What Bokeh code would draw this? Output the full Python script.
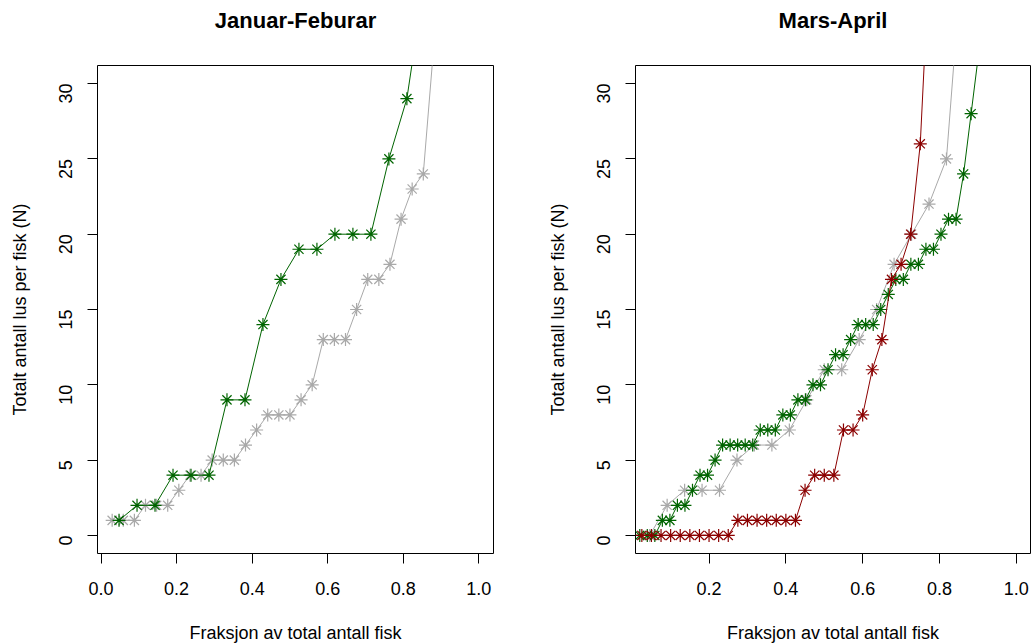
import math
import numpy as np
from bokeh.plotting import figure
from bokeh.layouts import row
from bokeh.models import FixedTicker, Range1d, Title
from bokeh.embed import file_html
from bokeh.resources import INLINE

# Lice counts per fish, sorted ascending (one value per fish)
jan_grey = [1, 1, 1, 2, 2, 2, 3, 4, 4, 5, 5, 5, 6, 7, 8, 8, 8, 9, 10, 13, 13, 13,
            15, 17, 17, 18, 21, 23, 24, 33, 38, 44, 52, 70]
jan_green = [1, 2, 2, 4, 4, 4, 9, 9, 14, 17, 19, 19, 20, 20, 20, 25, 29, 37, 45, 55, 80]

mar_grey = [0, 2, 3, 3, 3, 5, 6, 6, 7, 9, 11, 11, 13, 15, 18, 20, 22, 25, 40, 48, 60, 85]
mar_green = [0, 0, 0, 1, 1, 2, 2, 3, 4, 4, 5, 6, 6, 6, 6, 6, 7, 7, 7, 8, 8, 9, 9, 10, 10,
             11, 12, 12, 13, 14, 14, 14, 15, 16, 17, 17, 18, 18, 19, 19, 20, 21, 21, 24,
             28, 32, 36, 40, 48, 60, 90]
mar_red = [0, 0, 0, 0, 0, 0, 0, 0, 0, 0, 1, 1, 1, 1, 1, 1, 1, 3, 4, 4, 4, 7, 7, 8, 11,
           13, 17, 18, 20, 26, 39, 42, 48, 52, 60, 66, 75, 85, 100, 130]

x_ticks_left = [0.0, 0.2, 0.4, 0.6, 0.8, 1.0]
x_ticks_right = [0.2, 0.4, 0.6, 0.8, 1.0]
y_ticks = [0, 5, 10, 15, 20, 25, 30]

GREY = "#A9A9A9"
GREEN = "#006400"
RED = "#8B0000"
FONT = "Liberation Sans"


def fraction(counts):
    n = len(counts)
    return np.arange(1, n + 1) / n


def panel(title, series, xr, xticks, border_left, border_right, frame_w):
    p = figure(frame_width=frame_w, frame_height=488, title=None,
               min_border_left=border_left, min_border_right=border_right,
               min_border_top=65, min_border_bottom=91,
               x_range=Range1d(*xr), y_range=Range1d(-1.2, 31.2),
               output_backend="svg", toolbar_location=None,
               background_fill_color="white", border_fill_color="white")
    p.grid.visible = False
    p.outline_line_color = "black"
    p.outline_line_width = 1
    p.outline_line_alpha = 1

    # blank gap between the frame and the heading
    p.add_layout(Title(text=" ", text_font_size="10px", standoff=20), "above")
    p.add_layout(Title(text=title, align="center", standoff=0,
                       text_font=FONT, text_font_size="22px",
                       text_font_style="bold", text_color="black"), "above")

    p.xaxis.ticker = FixedTicker(ticks=xticks)
    p.yaxis.ticker = FixedTicker(ticks=y_ticks)
    p.xaxis.major_label_overrides = {t: f"{t:.1f}" for t in xticks}
    p.yaxis.major_label_orientation = math.pi / 2
    p.xaxis.axis_label = "Fraksjon av total antall fisk"
    p.yaxis.axis_label = "Totalt antall lus per fisk (N)"
    for ax in (p.xaxis, p.yaxis):
        ax.axis_line_color = None
        ax.major_tick_out = 10
        ax.major_tick_in = 0
        ax.major_tick_line_color = "black"
        ax.minor_tick_line_color = None
        ax.major_label_text_font = FONT
        ax.major_label_text_font_size = "18px"
        ax.major_label_text_color = "black"
        ax.axis_label_text_font = FONT
        ax.axis_label_text_font_size = "18px"
        ax.axis_label_text_font_style = "normal"
        ax.axis_label_text_color = "black"
    p.xaxis.major_label_standoff = 18
    p.xaxis.axis_label_standoff = 25
    p.yaxis.major_label_standoff = 22
    p.yaxis.axis_label_standoff = 20

    for counts, color in series:
        x = fraction(counts)
        p.line(x, counts, line_color=color, line_width=1)
        p.scatter(x, counts, marker="asterisk", size=13, line_color=color, line_width=1.2)
    return p


left = panel("Januar-Feburar", [(jan_grey, GREY), (jan_green, GREEN)],
             (-0.0094, 1.0388), x_ticks_left, 97, 27, 396)
right = panel("Mars-April", [(mar_grey, GREY), (mar_green, GREEN), (mar_red, RED)],
              (0.0085, 1.037), x_ticks_right, 115, 1, 395)

layout = row(left, right, spacing=0)
open("out.html", "w").write(file_html(layout, INLINE))
